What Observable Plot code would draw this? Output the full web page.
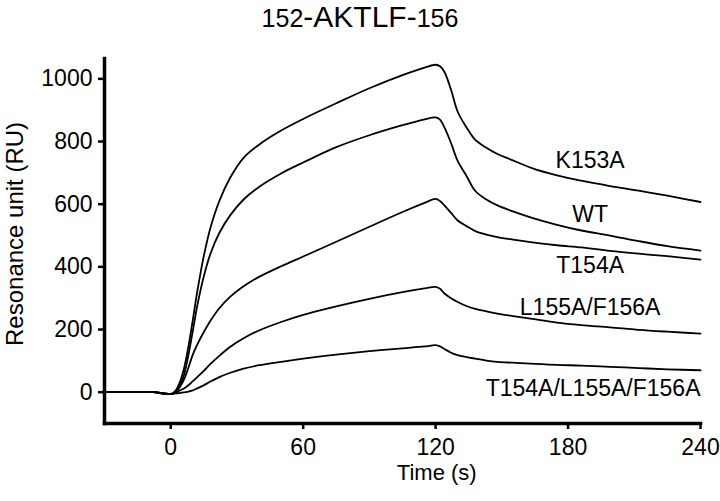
<!DOCTYPE html>
<html><head><meta charset="utf-8">
<script src="https://cdn.jsdelivr.net/npm/d3@7"></script>
<script src="https://cdn.jsdelivr.net/npm/@observablehq/plot@0.6"></script>
<style>
body{margin:0;background:#fff;font-family:"Liberation Sans",Arial,Helvetica,sans-serif;}
#title{height:40px;width:720px;text-align:center;line-height:34px;font-size:30px;color:#000;white-space:nowrap;overflow:visible;}
#title .s{font-size:25px;}
</style></head><body>
<div id="title"><span class="s">152</span>-AKTLF-<span class="s">156</span></div>
<div id="chart"></div>
<script>
// Time points (s)
const time = [-30, -8, -3, 0, 2, 4, 6, 8, 10, 12, 15, 18, 22, 27, 33, 40, 50, 60, 75, 90, 105, 115, 120, 122, 124, 127, 130, 134, 138, 143, 148, 155, 163, 175, 186, 199, 212, 225, 240];
// Resonance (RU) per construct
const K153A = [0, 0, -5, -6, 3, 30, 75, 145, 230, 320, 435, 525, 610, 685, 748, 790, 835, 872, 922, 970, 1012, 1036, 1045, 1040, 1022, 965, 895, 845, 805, 780, 760, 740, 717, 692, 675, 658, 643, 627, 607];
const WT    = [0, 0, -5, -6, 0, 20, 55, 118, 195, 275, 370, 442, 508, 565, 615, 655, 698, 733, 782, 820, 852, 871, 877, 870, 845, 795, 738, 690, 642, 615, 596, 577, 558, 534, 516, 500, 482, 466, 452];
const T154A = [0, 0, -4, -6, -2, 15, 40, 78, 120, 152, 192, 228, 268, 305, 338, 368, 402, 433, 480, 528, 575, 604, 617, 610, 596, 572, 548, 530, 514, 503, 495, 487, 479, 469, 462, 451, 442, 434, 423];
const L155A_F156A = [0, 0, -4, -6, -3, 5, 12, 22, 35, 48, 68, 90, 116, 145, 172, 197, 224, 247, 274, 298, 319, 331, 336, 330, 315, 300, 288, 275, 266, 258, 251, 243, 235, 222, 214, 207, 199, 193, 187];
const T154A_L155A_F156A = [0, 0, -4, -6, -4, -3, -1, 2, 6, 12, 22, 34, 48, 62, 75, 86, 97, 107, 120, 131, 140, 146, 150, 146, 138, 126, 118, 112, 107, 101, 97, 94, 91, 87, 85, 81, 77, 73, 70];

const seriesNames = ["K153A", "WT", "T154A", "L155A/F156A", "T154A/L155A/F156A"];
const seriesValues = [K153A, WT, T154A, L155A_F156A, T154A_L155A_F156A];
// label positions in data units
const labelX = [190, 190, 190, 190, 240];
const labelY = [739, 567, 403, 270, 12];
const xTicks = [0, 60, 120, 180, 240];
const yTicks = [0, 200, 400, 600, 800, 1000];
const xTitle = "Time (s)";
const yTitle = "Resonance unit (RU)";

const rows = [];
seriesValues.forEach((vals, i) => vals.forEach((v, j) => rows.push({t: time[j], v, s: seriesNames[i]})));
const labels = seriesNames.map((n, i) => ({n, x: labelX[i], y: labelY[i]}));

const chart = Plot.plot({
  width: 720, height: 461,
  marginTop: 18, marginBottom: 78, marginLeft: 104, marginRight: 20,
  style: {fontFamily: '"Liberation Sans", Arial, Helvetica, sans-serif', fontSize: "23px", color: "#000", background: "#fff", overflow: "visible"},
  x: {domain: [-30, 240]},
  y: {domain: [-100, 1065]},
  marks: [
    Plot.axisX(xTicks, {tickSize: 6, tickPadding: 9, strokeWidth: 2.5, label: null, fontSize: 23}),
    Plot.axisY(yTicks, {tickSize: 6, tickPadding: 6, strokeWidth: 2.5, label: null, fontSize: 23, tickFormat: d3.format("d")}),
    Plot.frame({anchor: "left", strokeWidth: 3.5, stroke: "#000"}),
    Plot.frame({anchor: "bottom", strokeWidth: 3.5, stroke: "#000"}),
    Plot.line(rows, {x: "t", y: "v", z: "s", stroke: "#000", strokeWidth: 1.8, curve: "catmull-rom"}),
    Plot.text(labels.slice(0, 4), {x: "x", y: "y", text: "n", textAnchor: "middle", fontSize: 23, fill: "#000"}),
    Plot.text(labels.slice(4), {x: "x", y: "y", text: "n", textAnchor: "end", fontSize: 23, fill: "#000"}),
    Plot.text([xTitle], {x: [120.5], frameAnchor: "bottom", dy: 49, lineAnchor: "middle", textAnchor: "middle", fontSize: 22, fill: "#000"}),
    Plot.text([yTitle], {y: [505], frameAnchor: "left", dx: -89, rotate: -90, textAnchor: "middle", lineAnchor: "middle", fontSize: 24, fill: "#000"})
  ]
});
document.getElementById("chart").appendChild(chart);
</script>
</body></html>
